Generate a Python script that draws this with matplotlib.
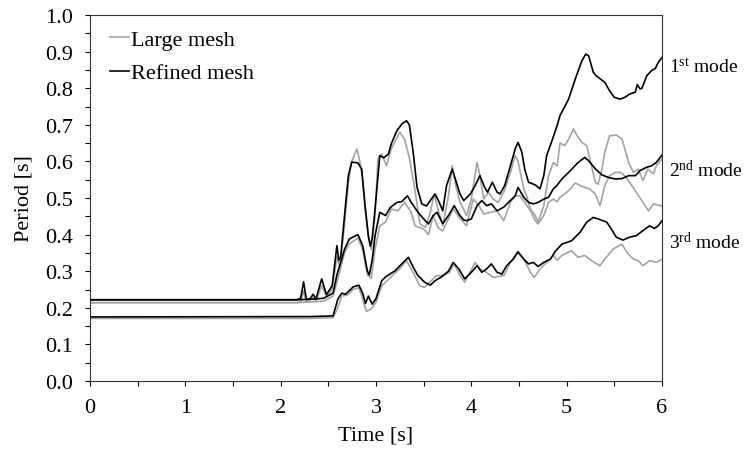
import matplotlib
matplotlib.use("Agg")
import matplotlib.pyplot as plt
from matplotlib.ticker import MultipleLocator

plt.rcParams['font.family'] = ['Liberation Serif', 'DejaVu Serif']
plt.rcParams['mathtext.fontset'] = 'custom'
plt.rcParams['mathtext.rm'] = 'Liberation Serif'
plt.rcParams['mathtext.it'] = 'Liberation Serif:italic'

# ---------------- data ----------------
t_ref1 = [0, 2.17, 2.21, 2.24, 2.27, 2.31, 2.34, 2.37, 2.43, 2.48, 2.54, 2.59, 2.61, 2.63, 2.67, 2.71, 2.745, 2.81, 2.85, 2.885, 2.92, 2.94, 2.96, 2.99, 3.04, 3.08, 3.13, 3.16, 3.22, 3.27, 3.32, 3.35, 3.39, 3.43, 3.48, 3.53, 3.58, 3.62, 3.66, 3.70, 3.74, 3.80, 3.84, 3.88, 3.92, 3.99, 4.04, 4.09, 4.14, 4.17, 4.22, 4.27, 4.30, 4.35, 4.41, 4.46, 4.49, 4.53, 4.56, 4.60, 4.65, 4.68, 4.72, 4.76, 4.79, 4.84, 4.90, 4.93, 5.02, 5.09, 5.16, 5.20, 5.23, 5.28, 5.31, 5.40, 5.45, 5.50, 5.56, 5.61, 5.66, 5.72, 5.74, 5.77, 5.79, 5.84, 5.89, 5.93, 5.96, 6.0]
p_ref1 = [0.222, 0.222, 0.226, 0.271, 0.223, 0.225, 0.237, 0.224, 0.279, 0.236, 0.26, 0.37, 0.33, 0.34, 0.452, 0.561, 0.598, 0.596, 0.579, 0.48, 0.395, 0.368, 0.39, 0.47, 0.616, 0.61, 0.62, 0.648, 0.684, 0.702, 0.711, 0.70, 0.625, 0.53, 0.484, 0.478, 0.497, 0.511, 0.49, 0.465, 0.534, 0.579, 0.545, 0.512, 0.493, 0.511, 0.534, 0.561, 0.529, 0.516, 0.543, 0.516, 0.511, 0.534, 0.588, 0.634, 0.652, 0.625, 0.579, 0.543, 0.538, 0.534, 0.525, 0.561, 0.616, 0.652, 0.698, 0.725, 0.77, 0.825, 0.875, 0.893, 0.889, 0.843, 0.834, 0.816, 0.793, 0.775, 0.77, 0.775, 0.784, 0.789, 0.81, 0.798, 0.80, 0.834, 0.848, 0.854, 0.87, 0.884]

t_lrg1 = [0, 2.17, 2.21, 2.24, 2.27, 2.34, 2.37, 2.43, 2.48, 2.54, 2.59, 2.61, 2.63, 2.67, 2.71, 2.745, 2.80, 2.83, 2.86, 2.885, 2.92, 2.95, 2.99, 3.02, 3.06, 3.11, 3.16, 3.25, 3.30, 3.35, 3.41, 3.46, 3.52, 3.57, 3.61, 3.65, 3.70, 3.76, 3.80, 3.84, 3.88, 3.95, 4.0, 4.06, 4.09, 4.13, 4.18, 4.23, 4.28, 4.34, 4.41, 4.46, 4.49, 4.55, 4.58, 4.62, 4.67, 4.70, 4.76, 4.81, 4.86, 4.90, 4.93, 4.98, 5.04, 5.07, 5.11, 5.16, 5.21, 5.26, 5.30, 5.33, 5.37, 5.40, 5.45, 5.52, 5.58, 5.61, 5.65, 5.70, 5.75, 5.80, 5.85, 5.91, 5.94, 6.0]
p_lrg1 = [0.214, 0.214, 0.217, 0.245, 0.216, 0.228, 0.218, 0.26, 0.232, 0.25, 0.34, 0.32, 0.33, 0.43, 0.54, 0.60, 0.634, 0.60, 0.55, 0.47, 0.40, 0.36, 0.45, 0.607, 0.62, 0.588, 0.634, 0.68, 0.66, 0.61, 0.52, 0.429, 0.42, 0.461, 0.51, 0.47, 0.424, 0.505, 0.588, 0.53, 0.49, 0.452, 0.497, 0.597, 0.561, 0.497, 0.516, 0.497, 0.488, 0.516, 0.57, 0.616, 0.60, 0.525, 0.506, 0.47, 0.452, 0.434, 0.479, 0.561, 0.597, 0.588, 0.65, 0.643, 0.67, 0.689, 0.67, 0.652, 0.643, 0.588, 0.543, 0.538, 0.579, 0.625, 0.67, 0.672, 0.661, 0.634, 0.597, 0.57, 0.579, 0.547, 0.579, 0.566, 0.588, 0.607]

t_ref2 = [0, 2.17, 2.3, 2.45, 2.55, 2.59, 2.64, 2.67, 2.72, 2.81, 2.86, 2.91, 2.93, 2.96, 2.99, 3.04, 3.10, 3.15, 3.22, 3.27, 3.33, 3.37, 3.44, 3.50, 3.55, 3.60, 3.64, 3.70, 3.76, 3.82, 3.88, 3.92, 3.95, 4.0, 4.06, 4.11, 4.16, 4.21, 4.27, 4.34, 4.39, 4.46, 4.49, 4.55, 4.60, 4.65, 4.70, 4.76, 4.81, 4.86, 4.90, 4.95, 5.04, 5.12, 5.19, 5.23, 5.30, 5.37, 5.44, 5.51, 5.58, 5.65, 5.72, 5.77, 5.84, 5.89, 5.94, 6.0]
p_ref2 = [0.222, 0.222, 0.223, 0.226, 0.24, 0.29, 0.333, 0.36, 0.388, 0.40, 0.37, 0.30, 0.29, 0.33, 0.397, 0.461, 0.452, 0.474, 0.488, 0.49, 0.506, 0.488, 0.461, 0.443, 0.429, 0.452, 0.461, 0.43, 0.452, 0.479, 0.452, 0.44, 0.438, 0.443, 0.479, 0.493, 0.479, 0.484, 0.465, 0.475, 0.488, 0.506, 0.529, 0.502, 0.488, 0.484, 0.488, 0.497, 0.502, 0.525, 0.535, 0.552, 0.575, 0.597, 0.611, 0.602, 0.58, 0.563, 0.556, 0.552, 0.553, 0.561, 0.561, 0.575, 0.584, 0.588, 0.597, 0.617]

t_lrg2 = [0, 2.17, 2.45, 2.55, 2.59, 2.64, 2.67, 2.72, 2.81, 2.86, 2.91, 2.95, 2.99, 3.04, 3.10, 3.16, 3.23, 3.30, 3.37, 3.41, 3.50, 3.55, 3.60, 3.65, 3.70, 3.76, 3.81, 3.88, 3.95, 4.02, 4.08, 4.13, 4.20, 4.27, 4.34, 4.41, 4.46, 4.51, 4.56, 4.62, 4.67, 4.70, 4.76, 4.81, 4.86, 4.90, 4.93, 4.98, 5.04, 5.09, 5.14, 5.19, 5.24, 5.30, 5.35, 5.40, 5.45, 5.51, 5.56, 5.61, 5.66, 5.73, 5.80, 5.86, 5.91, 6.0]
p_lrg2 = [0.214, 0.214, 0.218, 0.232, 0.27, 0.32, 0.35, 0.375, 0.39, 0.36, 0.29, 0.28, 0.36, 0.424, 0.434, 0.47, 0.465, 0.488, 0.461, 0.424, 0.415, 0.40, 0.452, 0.419, 0.41, 0.443, 0.47, 0.445, 0.424, 0.497, 0.479, 0.456, 0.461, 0.465, 0.438, 0.488, 0.506, 0.506, 0.488, 0.465, 0.438, 0.429, 0.452, 0.488, 0.497, 0.49, 0.502, 0.511, 0.525, 0.541, 0.534, 0.529, 0.525, 0.511, 0.479, 0.534, 0.561, 0.57, 0.57, 0.561, 0.543, 0.516, 0.488, 0.465, 0.484, 0.478]

t_ref3 = [0, 2.3, 2.45, 2.55, 2.60, 2.64, 2.68, 2.76, 2.82, 2.86, 2.89, 2.92, 2.96, 3.0, 3.06, 3.10, 3.15, 3.20, 3.27, 3.34, 3.39, 3.44, 3.51, 3.57, 3.62, 3.69, 3.76, 3.81, 3.87, 3.93, 4.0, 4.06, 4.11, 4.16, 4.21, 4.27, 4.32, 4.37, 4.44, 4.49, 4.55, 4.60, 4.65, 4.70, 4.76, 4.83, 4.88, 4.95, 5.05, 5.14, 5.21, 5.28, 5.35, 5.42, 5.47, 5.52, 5.59, 5.66, 5.73, 5.80, 5.87, 5.92, 5.96, 6.0]
p_ref3 = [0.175, 0.176, 0.177, 0.178, 0.224, 0.24, 0.237, 0.257, 0.262, 0.24, 0.212, 0.232, 0.21, 0.225, 0.274, 0.284, 0.293, 0.301, 0.32, 0.338, 0.311, 0.288, 0.27, 0.262, 0.274, 0.285, 0.30, 0.324, 0.306, 0.279, 0.297, 0.315, 0.297, 0.306, 0.32, 0.297, 0.292, 0.315, 0.333, 0.353, 0.333, 0.32, 0.324, 0.313, 0.324, 0.333, 0.354, 0.374, 0.383, 0.406, 0.434, 0.447, 0.441, 0.434, 0.415, 0.393, 0.385, 0.393, 0.397, 0.411, 0.424, 0.417, 0.424, 0.438]

t_lrg3 = [0, 2.3, 2.55, 2.60, 2.64, 2.70, 2.76, 2.82, 2.86, 2.90, 2.95, 3.0, 3.06, 3.12, 3.20, 3.26, 3.32, 3.37, 3.46, 3.51, 3.58, 3.63, 3.70, 3.77, 3.82, 3.88, 3.93, 4.04, 4.09, 4.16, 4.23, 4.34, 4.41, 4.48, 4.55, 4.62, 4.66, 4.72, 4.79, 4.86, 4.90, 4.95, 5.05, 5.12, 5.19, 5.26, 5.35, 5.40, 5.49, 5.58, 5.63, 5.70, 5.75, 5.80, 5.87, 5.94, 6.0]
p_lrg3 = [0.171, 0.171, 0.173, 0.20, 0.232, 0.235, 0.25, 0.255, 0.225, 0.19, 0.197, 0.215, 0.26, 0.275, 0.295, 0.31, 0.329, 0.306, 0.26, 0.256, 0.274, 0.288, 0.288, 0.297, 0.32, 0.288, 0.27, 0.324, 0.306, 0.297, 0.283, 0.288, 0.324, 0.352, 0.333, 0.297, 0.283, 0.306, 0.324, 0.343, 0.33, 0.343, 0.356, 0.338, 0.343, 0.329, 0.315, 0.333, 0.361, 0.374, 0.352, 0.333, 0.329, 0.315, 0.329, 0.324, 0.333]

series_labels = ["Large mesh", "Refined mesh"]
mode_labels = [r"1$^{\mathrm{st}}$ mode", r"2$^{\mathrm{nd}}$ mode", r"3$^{\mathrm{rd}}$ mode"]
mode_label_y = [0.86, 0.578, 0.382]
x_ticks = [0, 1, 2, 3, 4, 5, 6]
y_ticks = [0.0, 0.1, 0.2, 0.3, 0.4, 0.5, 0.6, 0.7, 0.8, 0.9, 1.0]

# ---------------- plot ----------------
FS = 16
fig = plt.figure(figsize=(7.46, 4.52), dpi=100)
ax = fig.add_axes([90/746, 1-382/452, (662-90)/746, (382-16)/452])

gray = '#a3a3a3'
lw = 1.2
ax.plot(t_lrg1, p_lrg1, color=gray, lw=lw, label=series_labels[0])
ax.plot(t_lrg2, p_lrg2, color=gray, lw=lw)
ax.plot(t_lrg3, p_lrg3, color=gray, lw=lw)
ax.plot(t_ref1, p_ref1, color='black', lw=lw, label=series_labels[1])
ax.plot(t_ref2, p_ref2, color='black', lw=lw)
ax.plot(t_ref3, p_ref3, color='black', lw=lw)

ax.set_xlim(0, 6)
ax.set_ylim(0, 1.0)
ax.set_xticks(x_ticks)
ax.set_yticks(y_ticks)
ax.set_yticklabels([f"{v:.1f}" for v in y_ticks])
ax.xaxis.set_minor_locator(MultipleLocator(0.5))
ax.yaxis.set_minor_locator(MultipleLocator(0.05))
ax.tick_params(which='both', direction='out', top=False, right=False, labelsize=FS)
ax.tick_params(which='major', length=3.5, width=0.8, pad=9)
ax.tick_params(which='minor', length=3.5, width=0.8)
for s in ax.spines.values():
    s.set_linewidth(0.8)
    s.set_color('#333333')

ax.set_xlabel("Time [s]", fontsize=FS, labelpad=6)
ax.set_ylabel("Period [s]", fontsize=FS, labelpad=8)

for lab, yv in zip(mode_labels, mode_label_y):
    ax.text(6.075, yv, lab, fontsize=14, va='center', ha='left', clip_on=False)

leg = ax.legend(loc='upper left', frameon=False, fontsize=FS, handlelength=0.85,
                handletextpad=0.1, labelspacing=0.6, borderpad=0.0, borderaxespad=0.0,
                bbox_to_anchor=(0.035, 1 - 14/366))

fig.savefig("out.png", dpi=100)
